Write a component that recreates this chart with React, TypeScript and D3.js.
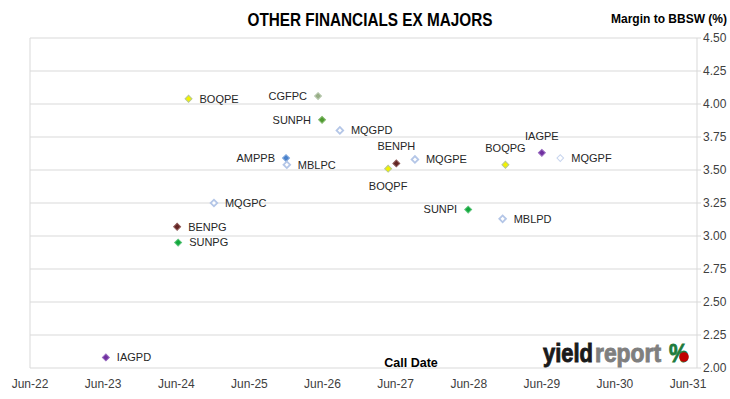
import React from 'react';
import * as d3 from 'd3';

const W = 730;
const H = 399;

// securities on the chart
const codes = ['IAGPD', 'BENPG', 'SUNPG', 'BOQPE', 'MQGPC', 'AMPPB', 'MBLPC', 'CGFPC', 'SUNPH', 'MQGPD',
    'BOQPF', 'BENPH', 'MQGPE', 'SUNPI', 'MBLPD', 'BOQPG', 'IAGPE', 'MQGPF'];
const callDates = ['2023-06-15', '2024-06-05', '2024-06-10', '2024-08-01', '2024-12-06', '2025-12-01', '2025-12-05',
    '2026-05-10', '2026-05-30', '2026-08-27', '2027-04-25', '2027-06-05', '2027-09-06', '2028-05-29',
    '2028-11-17', '2028-12-01', '2029-06-01', '2029-09-01'];
const margins = [2.08, 3.07, 2.95, 4.04, 3.25, 3.59, 3.54, 4.06, 3.88, 3.80,
    3.51, 3.55, 3.58, 3.20, 3.13, 3.54, 3.63, 3.59];

const yTicks = [2.0, 2.25, 2.5, 2.75, 3.0, 3.25, 3.5, 3.75, 4.0, 4.25, 4.5];
const xTickYears = [2022, 2023, 2024, 2025, 2026, 2027, 2028, 2029, 2030, 2031];

const title = 'OTHER FINANCIALS EX MAJORS';
const yTitle = 'Margin to BBSW (%)';
const xTitle = 'Call Date';

// marker look per security
const markerStyle = {
    IAGPD: { fill: '#7030a0', stroke: '#9a6cc0' },
    IAGPE: { fill: '#7030a0', stroke: '#9a6cc0' },
    BENPG: { fill: '#632523', stroke: '#8e5a58' },
    BENPH: { fill: '#632523', stroke: '#8e5a58' },
    SUNPG: { fill: '#12a83c', stroke: '#5cc47a' },
    SUNPI: { fill: '#12a83c', stroke: '#5cc47a' },
    SUNPH: { fill: '#4f9a30', stroke: '#80b86a' },
    BOQPE: { fill: '#f2f200', stroke: '#b8c890' },
    BOQPF: { fill: '#f2f200', stroke: '#b8c890' },
    BOQPG: { fill: '#f2f200', stroke: '#b8c890' },
    CGFPC: { fill: '#98ae86', stroke: '#b9cab0' },
    AMPPB: { fill: '#4a82cc', stroke: '#7ea6dc' },
    MQGPC: { fill: '#ffffff', stroke: '#b4c6e7', hollow: true },
    MQGPD: { fill: '#ffffff', stroke: '#b4c6e7', hollow: true },
    MQGPE: { fill: '#ffffff', stroke: '#b4c6e7', hollow: true },
    MQGPF: { fill: '#ffffff', stroke: '#c8d5ee', hollow: true, thin: true },
    MBLPC: { fill: '#ffffff', stroke: '#b4c6e7', hollow: true },
    MBLPD: { fill: '#ffffff', stroke: '#b4c6e7', hollow: true },
};

// where each data label sits relative to its marker
const labelPos = {
    CGFPC: 'left', SUNPH: 'left', AMPPB: 'left', SUNPI: 'left',
    BENPH: 'above', IAGPE: 'above', BOQPG: 'above',
    BOQPF: 'below',
};

const margin = { left: 30, right: 33, top: 38, bottom: 31 };
const plotW = W - margin.left - margin.right;
const plotH = H - margin.top - margin.bottom;

const x = d3.scaleTime()
    .domain([new Date(2022, 5, 1), new Date(2031, 6, 16)])
    .range([margin.left, margin.left + plotW]);
const y = d3.scaleLinear()
    .domain([2, 4.5])
    .range([margin.top + plotH, margin.top]);

const narrow = '"Liberation Sans Narrow", "Arial Narrow", sans-serif';
const sans = '"Liberation Sans", Arial, sans-serif';

function Marker({ code, cx, cy }) {
    const st = markerStyle[code];
    const diamond = d3.symbol(d3.symbolSquare, st.hollow ? 22 : 24)();
    return (
        <path
            d={diamond}
            transform={`translate(${cx},${cy}) rotate(45)`}
            fill={st.fill}
            stroke={st.stroke}
            strokeWidth={st.hollow ? (st.thin ? 1 : 1.8) : 1}
        />
    );
}

function Label({ code, cx, cy }) {
    const pos = labelPos[code] || 'right';
    let tx = cx + 11, ty = cy, anchor = 'start';
    if (pos === 'left') { tx = cx - 11; anchor = 'end'; }
    if (pos === 'above') { tx = cx; ty = cy - 17; anchor = 'middle'; }
    if (pos === 'below') { tx = cx; ty = cy + 17; anchor = 'middle'; }
    return (
        <text x={tx} y={ty} dy="0.35em" textAnchor={anchor} fontFamily={sans} fontSize={11} fill="#262626">
            {code}
        </text>
    );
}

export default function App() {
    const points = codes.map((c, i) => ({
        code: c,
        cx: x(d3.timeParse('%Y-%m-%d')(callDates[i])),
        cy: y(margins[i]),
    }));
    const fmtX = d3.timeFormat('%b-%y');
    const right = margin.left + plotW;
    const bottom = margin.top + plotH;

    return (
        <svg width={W} height={H} style={{ position: 'absolute', left: 0, top: 0, background: '#fff' }}>
            <rect width={W} height={H} fill="#fff" />
            {/* gridlines */}
            {yTicks.map((t) => (
                <line key={t} x1={margin.left} x2={right + 4} y1={y(t)} y2={y(t)} stroke="#d9d9d9" strokeWidth={1} />
            ))}
            <line x1={margin.left} x2={margin.left} y1={margin.top} y2={bottom} stroke="#d9d9d9" />
            <line x1={right} x2={right} y1={margin.top} y2={bottom} stroke="#d9d9d9" />

            {/* y tick labels on the right */}
            {yTicks.map((t) => (
                <text key={t} x={right + 6} y={y(t)} dy="0.35em" fontFamily={narrow} fontSize={12} fill="#404040">
                    {d3.format('.2f')(t)}
                </text>
            ))}

            {/* x tick labels */}
            {xTickYears.map((yr) => (
                <text key={yr} x={x(new Date(yr, 5, 1))} y={388} textAnchor="middle" fontFamily={narrow} fontSize={12} fill="#404040">
                    {fmtX(new Date(yr, 5, 1))}
                </text>
            ))}

            <text x={370} y={26} textAnchor="middle" fontFamily={narrow} fontWeight="bold" fontSize={18}
                textLength={245} lengthAdjust="spacingAndGlyphs" fill="#000">
                {title}
            </text>
            <text x={727} y={23} textAnchor="end" fontFamily={narrow} fontWeight="bold" fontSize={12} fill="#000">
                {yTitle}
            </text>
            <text x={411} y={367} textAnchor="middle" fontFamily={narrow} fontWeight="bold" fontSize={12.5} fill="#000">
                {xTitle}
            </text>

            {/* logo */}
            <g fontFamily={sans} fontWeight="bold" fontSize={25} strokeWidth={0.9}>
                <text x={543} y={362} fill="#1a1a1a" stroke="#1a1a1a" textLength={50} lengthAdjust="spacingAndGlyphs">yield</text>
                <text x={595} y={362} fill="#7f7f7f" stroke="#7f7f7f" textLength={66} lengthAdjust="spacingAndGlyphs">report</text>
                <text x={669} y={362} fill="#1e7b3c" stroke="#1e7b3c" textLength={19} lengthAdjust="spacingAndGlyphs">%</text>
                <circle cx={684} cy={357} r={4.8} fill="#c00000" />
            </g>

            {points.map((p) => (
                <Marker key={p.code} {...p} />
            ))}
            {points.map((p) => (
                <Label key={'l' + p.code} {...p} />
            ))}
        </svg>
    );
}
